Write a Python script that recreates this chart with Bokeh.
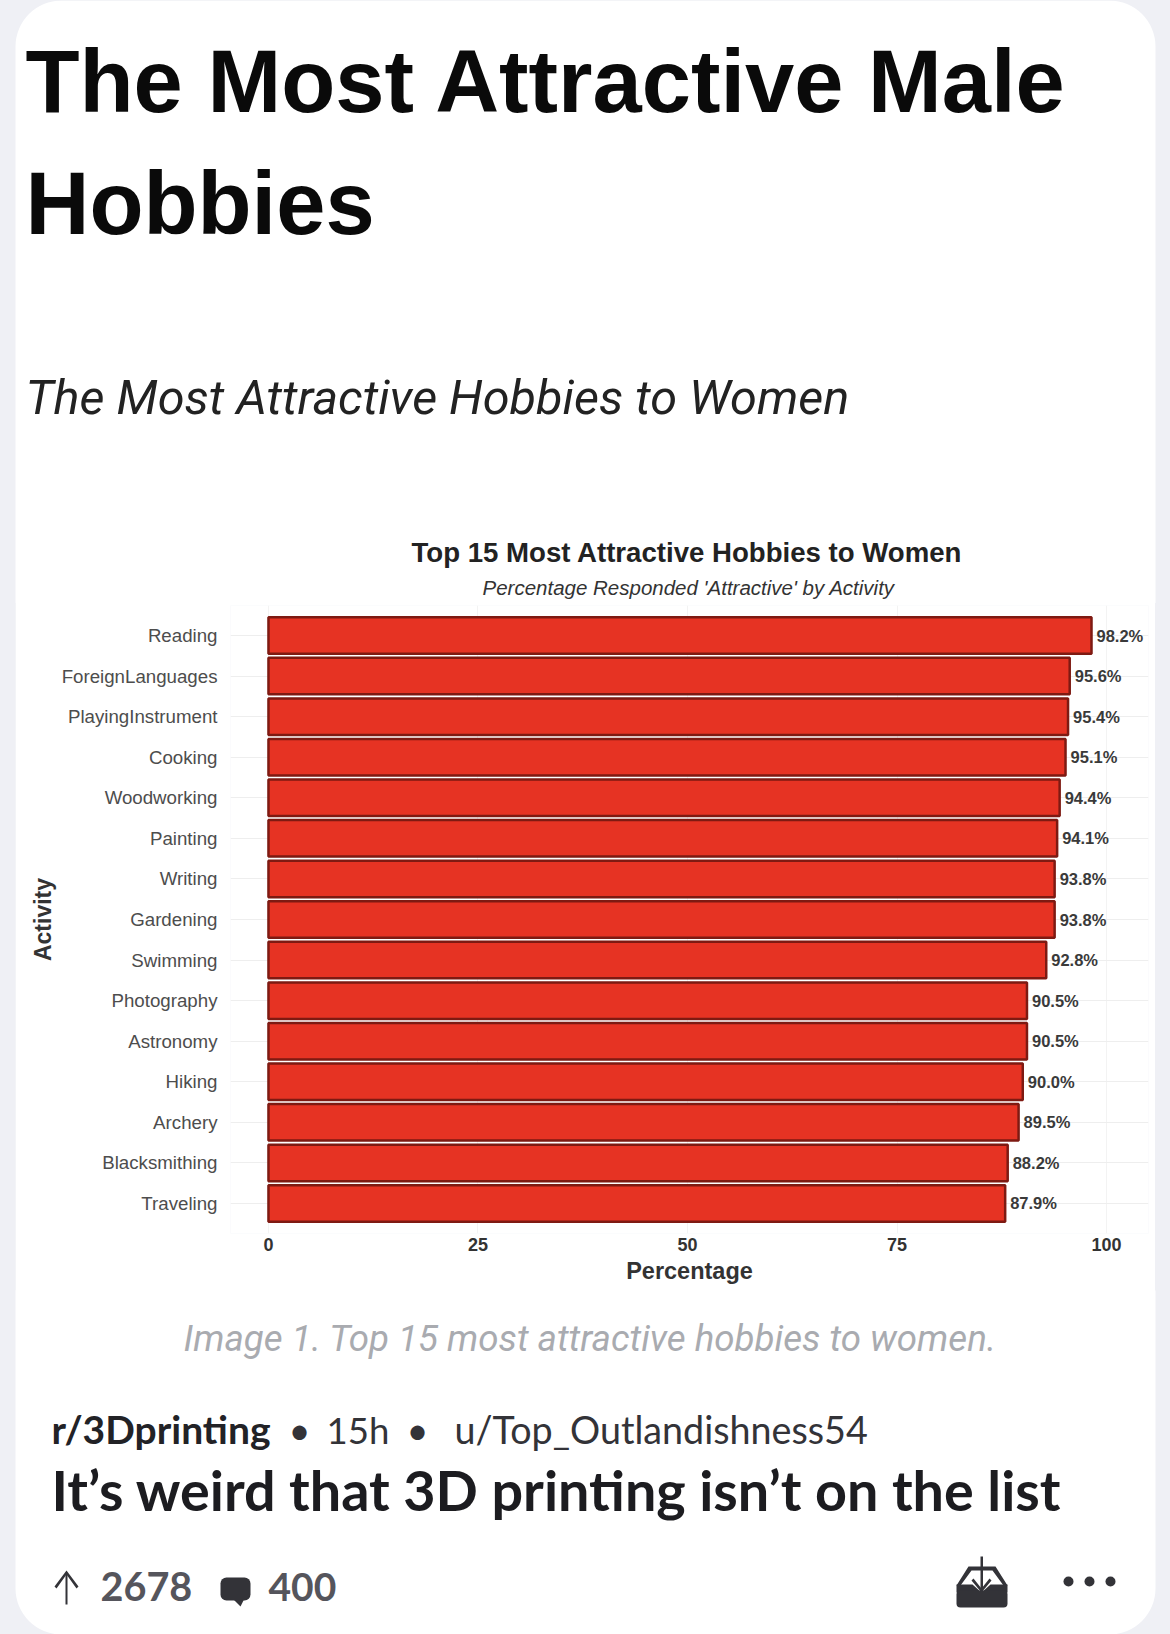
from bokeh.plotting import figure
from bokeh.layouts import column
from bokeh.models import Label, BoxAnnotation, FactorRange, Range1d, FixedTicker
from bokeh.core.properties import value
from bokeh.embed import file_html
from bokeh.resources import INLINE

activities = ["Reading", "ForeignLanguages", "PlayingInstrument", "Cooking", "Woodworking",
              "Painting", "Writing", "Gardening", "Swimming", "Photography",
              "Astronomy", "Hiking", "Archery", "Blacksmithing", "Traveling"]
percentages = [98.2, 95.6, 95.4, 95.1, 94.4, 94.1, 93.8, 93.8, 92.8, 90.5, 90.5, 90.0, 89.5, 88.2, 87.9]
x_ticks = [0, 25, 50, 75, 100]
value_labels = [f"{v:.1f}%" for v in percentages]

PAGE_W, PAGE_H = 1170, 1634
TOP_END, CHART_END = 603, 1290
CARD_L, CARD_R = 15, 1155
F_LEFT, F_RIGHT, F_TOP, F_BOTTOM = 230, 1148, 605, 1233
SIDE = "#eff0f5"
INK = "#333338"
BASELINE_SHIFT = 0.4


def panel(y0, y1):
    f = figure(width=PAGE_W, height=y1 - y0, output_backend="svg", toolbar_location=None,
               x_range=Range1d(0, PAGE_W), y_range=Range1d(y1, y0),
               x_axis_location=None, y_axis_location=None,
               min_border=0, min_border_left=0, min_border_right=0,
               min_border_top=0, min_border_bottom=0, frame_align=False)
    f.grid.visible = False
    f.outline_line_color = None
    f.background_fill_color = SIDE
    f.border_fill_color = SIDE
    return f


def lab(f, text, x, y, size, font="Liberation Sans", color="#111111", style="normal", align="left"):
    f.add_layout(Label(x=x, y=y - BASELINE_SHIFT * size, text=text, text_font=font,
                       text_font_size=f"{size}px", text_color=color, text_font_style=style,
                       text_align=align, text_baseline="alphabetic"))


def box(f, l, r, t, b, color, radius=0, level="overlay"):
    f.add_layout(BoxAnnotation(left=l, right=r, top=t, bottom=b, fill_color=color, fill_alpha=1,
                               line_color=None, border_radius=radius, level=level))


def poly(f, xs, ys, color=INK):
    f.patch(xs, ys, fill_color=color, line_color=None)


# ---- headline panel
top = panel(0, TOP_END)
box(top, CARD_L, CARD_R, 0, 900, "#ffffff", radius=46, level="underlay")
lab(top, "The Most Attractive Male", 25, 116, 88.5, color="#0a0a0a", style="bold")
lab(top, "Hobbies", 25, 238, 88.5, color="#0a0a0a", style="bold")
lab(top, "The Most Attractive Hobbies to Women", 25, 416, 48.6, font="Roboto", color="#222222", style="italic")
lab(top, "Top 15 Most Attractive Hobbies to Women", 411, 563, 27.6, style="bold", color="#222222")
lab(top, "Percentage Responded 'Attractive' by Activity", 482, 595, 20.5, style="italic", color="#333333")

# ---- chart panel (overlaps its neighbours by 1px so that no seam shows)
p = figure(width=CARD_R - CARD_L, height=CHART_END - TOP_END + 2, output_backend="svg", toolbar_location=None,
           x_range=Range1d(-4.53, 105.0),
           y_range=FactorRange(factors=activities[::-1], range_padding=0.032),
           min_border_left=F_LEFT - CARD_L, min_border_right=CARD_R - F_RIGHT,
           min_border_top=F_TOP - TOP_END + 1, min_border_bottom=CHART_END - F_BOTTOM + 1,
           margin=(-1, CARD_L, -1, CARD_L), frame_align=False,
           styles={"z-index": "5", "position": "relative"})
p.outline_line_color = None
p.hbar(y=activities, right=percentages, left=0, height=0.9,
       fill_color="#e63323", line_color="#7e1a12", line_width=2.5)
p.text(x=percentages, y=activities, text=value_labels, x_offset=5, text_align="left",
       text_baseline="middle", text_font=value("Liberation Sans"), text_font_size="16.5px",
       text_font_style="bold", text_color="#3a3a3a")

xa, ya = p.xaxis[0], p.yaxis[0]
xa.ticker = FixedTicker(ticks=x_ticks)
xa.major_tick_line_color = None
xa.minor_tick_line_color = None
xa.axis_line_color = None
xa.major_label_text_font = "Liberation Sans"
xa.major_label_text_font_size = "18px"
xa.major_label_text_font_style = "bold"
xa.major_label_text_color = "#333333"
xa.major_label_standoff = -2
xa.axis_label = "Percentage"
xa.axis_label_text_font = "Liberation Sans"
xa.axis_label_text_font_size = "23.5px"
xa.axis_label_text_font_style = "bold"
xa.axis_label_text_color = "#333333"
xa.axis_label_standoff = 4

ya.major_tick_line_color = None
ya.axis_line_color = None
ya.major_label_text_font = "Liberation Sans"
ya.major_label_text_font_size = "18.7px"
ya.major_label_text_color = "#4d4d4d"
ya.major_label_standoff = 7
ya.axis_label = "Activity"
ya.axis_label_text_font = "Liberation Sans"
ya.axis_label_text_font_size = "23px"
ya.axis_label_text_font_style = "bold"
ya.axis_label_text_color = "#333333"
ya.axis_label_standoff = 3

p.xgrid.grid_line_color = "#f3f3f3"
p.ygrid.grid_line_color = "#eeeeee"

# ---- footer panel
bot = panel(CHART_END, PAGE_H)
box(bot, CARD_L, CARD_R, 1000, PAGE_H, "#ffffff", radius=46, level="underlay")
lab(bot, "Image 1. Top 15 most attractive hobbies to women.", 183, 1353, 36.7, font="Roboto", color="#a9abb0", style="italic")
lab(bot, "r/3Dprinting", 51, 1444, 39, font="Lato", color="#222226", style="bold")
lab(bot, "•", 288, 1444, 38, font="Lato", color=INK)
lab(bot, "15h", 326, 1444, 36.6, font="Lato", color=INK)
lab(bot, "•", 406, 1444, 38, font="Lato", color=INK)
lab(bot, "u/Top_Outlandishness54", 454, 1444, 37.7, font="Lato", color=INK)
lab(bot, "It’s weird that 3D printing isn’t on the list", 51, 1511, 55.7, font="Lato", color="#1c1c20", style="bold")
lab(bot, "2678", 100, 1602, 39.6, font="Lato", color="#55555c", style="bold")
lab(bot, "400", 268, 1602, 39, font="Lato", color="#55555c", style="bold")

# up arrow
poly(bot, [65, 67, 67, 65], [1572, 1572, 1604, 1604])
poly(bot, [66, 78, 76, 66, 56, 54], [1570, 1586, 1588, 1574, 1588, 1586])
# comment bubble
box(bot, 220, 250, 1577, 1600, INK, radius=6)
poly(bot, [232, 244, 240], [1598, 1598, 1606])
# inbox icon
box(bot, 956, 1007, 1590, 1607, INK, radius=4)
poly(bot, [956, 968, 995, 1007, 1003, 992, 971, 960], [1585, 1566, 1566, 1585, 1585, 1570, 1570, 1585])
poly(bot, [956, 972, 981, 990, 1007, 1007, 956], [1584, 1584, 1592, 1584, 1584, 1592, 1592])
poly(bot, [980, 982.5, 982.5, 980], [1556, 1556, 1590, 1590])
poly(bot, [981, 991, 989, 981, 973, 971], [1592, 1580, 1578, 1588, 1578, 1580])
# dots
for cx in (1068, 1089, 1110):
    box(bot, cx - 5, cx + 5, 1576, 1586, INK, radius=5)

page = column(top, p, bot, spacing=0, styles={"background-color": SIDE})
open("out.html", "w").write(file_html(page, INLINE))
